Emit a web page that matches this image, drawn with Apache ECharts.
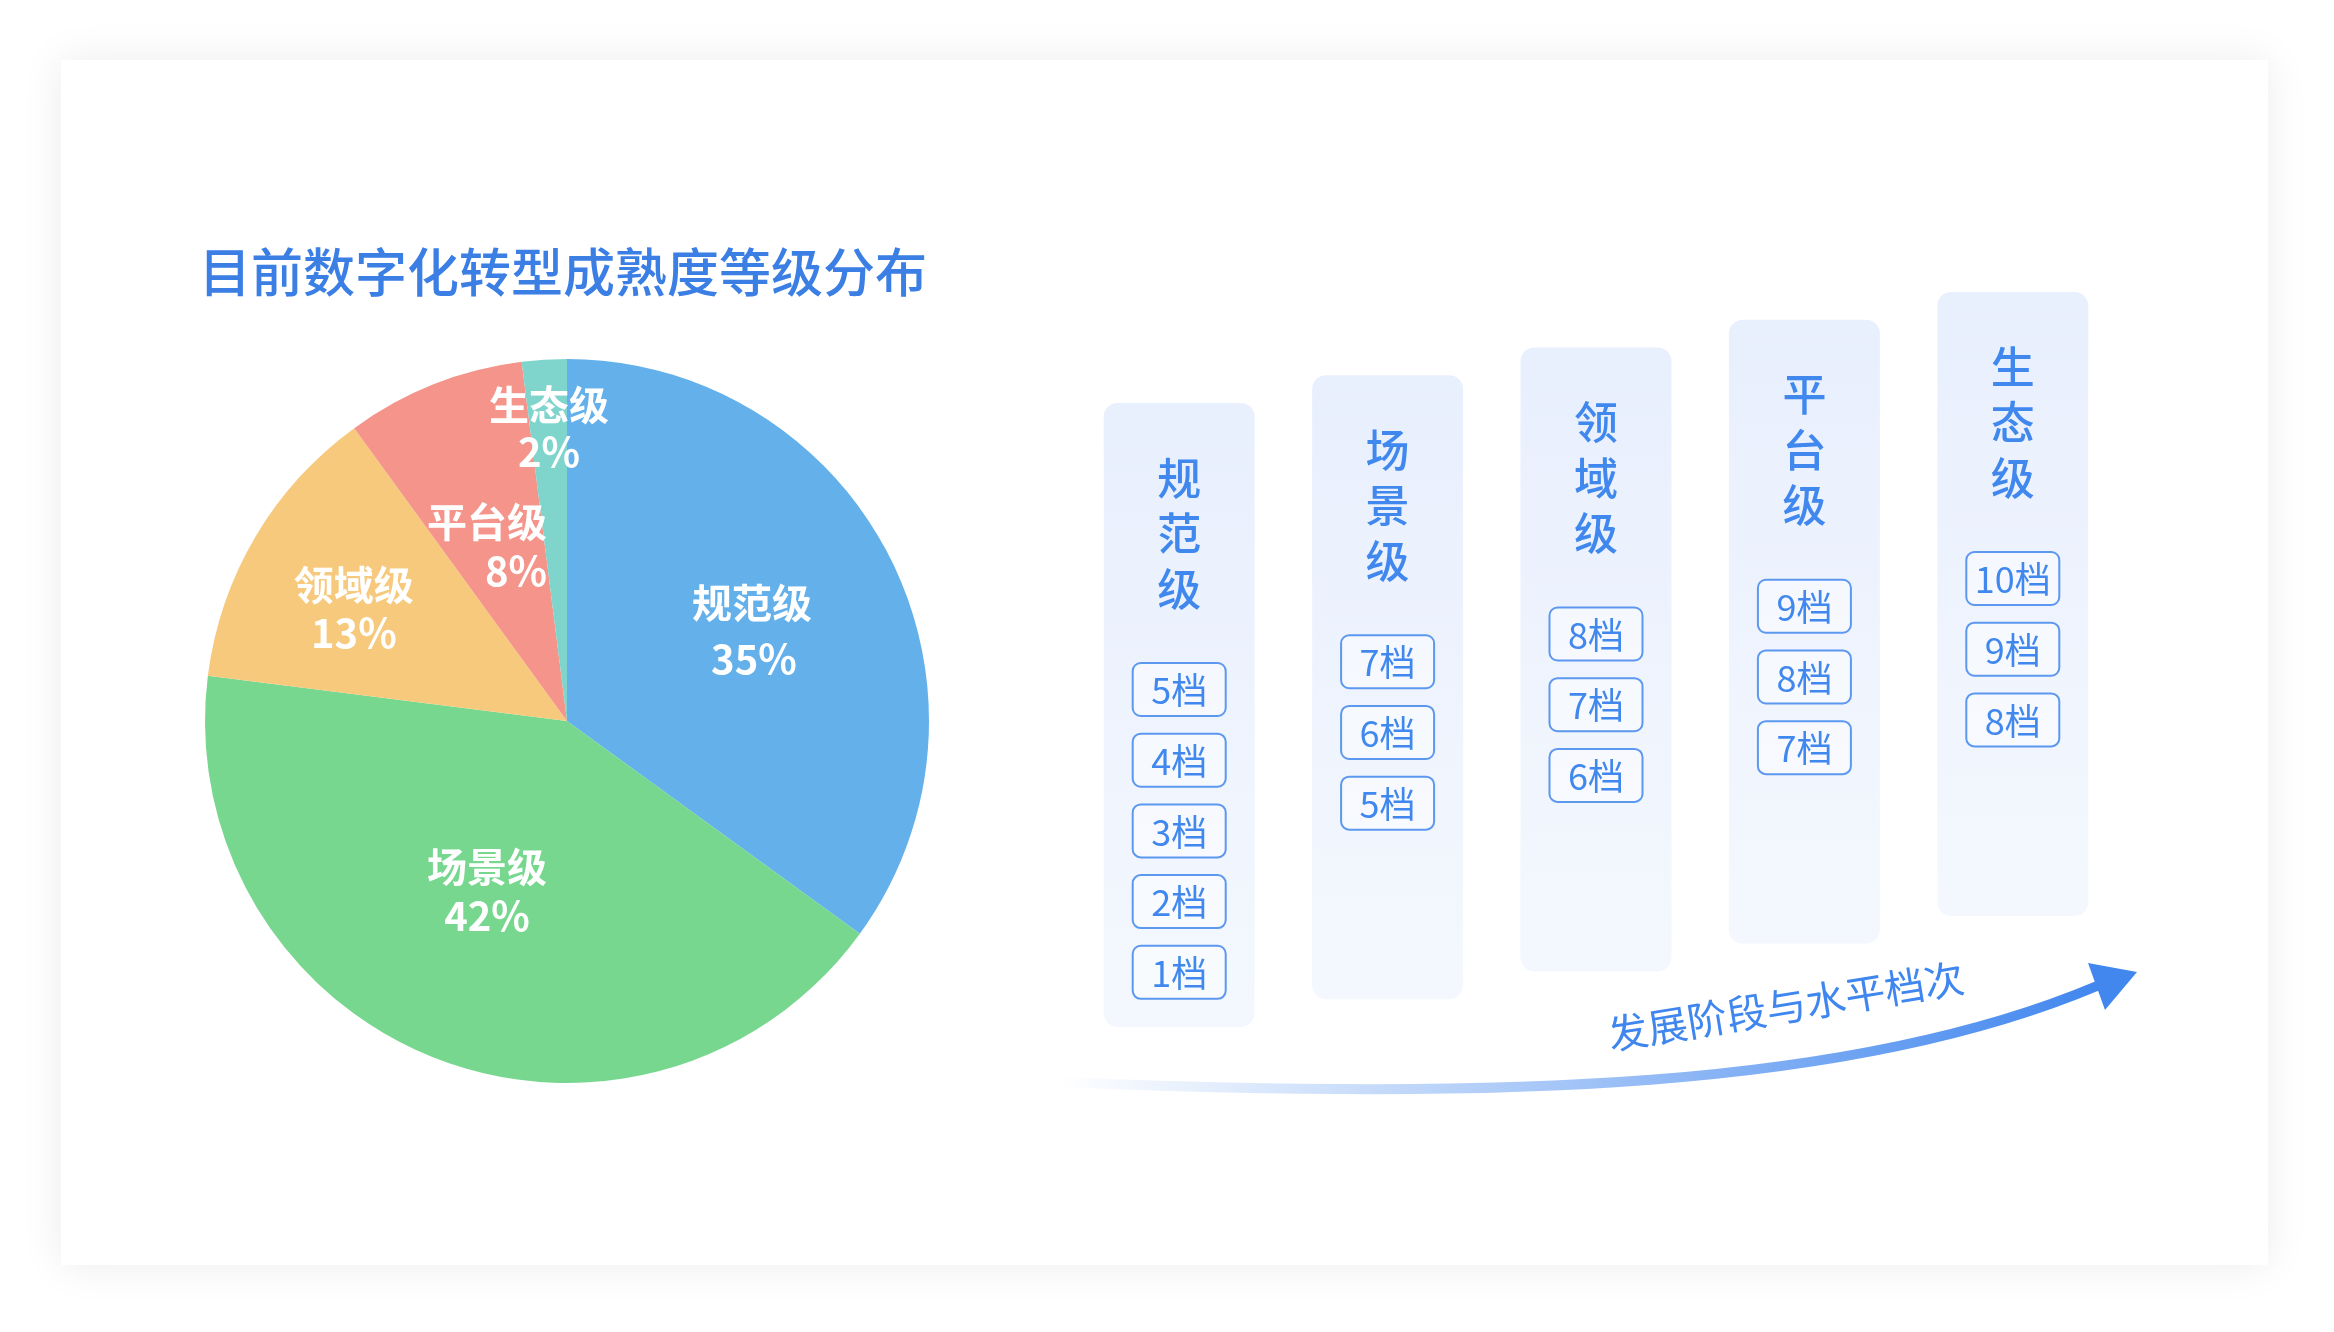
<!DOCTYPE html>
<html>
<head>
<meta charset="utf-8">
<script src="https://cdn.jsdelivr.net/npm/echarts@6/dist/echarts.min.js"></script>
<style>
html,body{margin:0;padding:0;background:#ffffff;}
#main{width:2334px;height:1332px;}
</style>
</head>
<body>
<div id="main"></div>
<script>
// ---- data ----
const chartTitle = '目前数字化转型成熟度等级分布';
const pieNames = ['规范级', '场景级', '领域级', '平台级', '生态级'];
const pieValues = [35, 42, 13, 8, 2];
const pieColors = ['#63b0eb', '#78d78f', '#f6c97d', '#f4948a', '#7fd4cb'];
const stages = ['规范级', '场景级', '领域级', '平台级', '生态级'];
const stageLevels = [
  ['5档', '4档', '3档', '2档', '1档'],
  ['7档', '6档', '5档'],
  ['8档', '7档', '6档'],
  ['9档', '8档', '7档'],
  ['10档', '9档', '8档']
];
const arrowText = '发展阶段与水平档次';

// ---- style / layout ----
const FONT = '"Noto Sans CJK SC", "Noto Sans", sans-serif';
const BLUE = '#4088ee';
const PIE_CX = 567, PIE_CY = 721, PIE_R = 362;
// label placement inside slices: [radius fraction, angle in degrees clockwise from top]
const labelPolar = [[0.568, 64.1], [0.519, 205.2], [0.665, 297.7], [0.531, 335.4], [0.811, 356.5]];
const labelLineHeights = [56, 49, 48, 49, 47];
const labelValueShift = [4, 0, 0, 58, 0];
const COL_TOP0 = 403, COL_STEP = 27.75, COL_H = 624, COL_W = 151;
const BADGE_W = 93, BADGE_H = 53, BADGE_GAP = 70.7, BADGE_OFF = 260;

const chart = echarts.init(document.getElementById('main'), null, {renderer: 'canvas'});

const labelBase = {color: '#ffffff', fontSize: 40, fontWeight: 'bold', fontFamily: FONT};
const labelRich = {};
for (let i = 0; i < pieNames.length; i++) {
  labelRich['n' + i] = Object.assign({}, labelBase, {lineHeight: labelLineHeights[i]});
  labelRich['p' + i] = Object.assign({}, labelBase, {lineHeight: labelLineHeights[i], padding: [0, 0, 0, labelValueShift[i]]});
}

function renderStage(params, api) {
  const i = api.value(0);
  const cx = api.coord([i, 0])[0];
  const top = COL_TOP0 - COL_STEP * i;
  const children = [];
  children.push({
    type: 'rect',
    shape: {x: cx - COL_W / 2, y: top, width: COL_W, height: COL_H, r: 14},
    style: {
      fill: new echarts.graphic.LinearGradient(0, 0, 0, 1, [
        {offset: 0, color: '#e8effd'},
        {offset: 1, color: '#f4f8fe'}
      ])
    }
  });
  const name = stages[i];
  for (let k = 0; k < name.length; k++) {
    children.push({
      type: 'text',
      style: {
        text: name[k], x: cx, y: top + 75 + k * 55.5,
        fill: BLUE, fontSize: 44, fontFamily: FONT, fontWeight: 500,
        align: 'center', verticalAlign: 'middle'
      }
    });
  }
  const lv = stageLevels[i];
  for (let k = 0; k < lv.length; k++) {
    const by = top + BADGE_OFF + k * BADGE_GAP;
    children.push({
      type: 'rect',
      shape: {x: cx - BADGE_W / 2, y: by, width: BADGE_W, height: BADGE_H, r: 8},
      style: {fill: 'rgba(255,255,255,0.45)', stroke: '#5c98ef', lineWidth: 2}
    });
    children.push({
      type: 'text',
      style: {
        text: lv[k], x: cx, y: by + BADGE_H / 2 + 1,
        fill: BLUE, fontSize: 36, fontFamily: FONT,
        align: 'center', verticalAlign: 'middle'
      }
    });
  }
  return {type: 'group', children: children};
}

const option = {
  backgroundColor: '#ffffff',
  animation: false,
  textStyle: {fontFamily: FONT},
  graphic: [
    {
      type: 'rect', z: -10,
      shape: {x: 61, y: 60, width: 2207, height: 1205},
      style: {fill: '#ffffff', shadowBlur: 40, shadowColor: 'rgba(0,0,0,0.08)'}
    },
    {
      type: 'text', z: 5,
      style: {
        text: chartTitle, x: 199, y: 272,
        fill: '#3b7fe4', fontSize: 52, fontFamily: FONT, fontWeight: 500,
        align: 'left', verticalAlign: 'middle'
      }
    },
    {
      type: 'bezierCurve', z: 5,
      shape: {x1: 1060, y1: 1082, cpx1: 1500, cpy1: 1100, cpx2: 1850, cpy2: 1090, x2: 2097, y2: 986},
      style: {
        fill: null, lineWidth: 10, lineCap: 'butt',
        stroke: {
          type: 'linear', x: 1060, y: 0, x2: 2097, y2: 0, global: true,
          colorStops: [
            {offset: 0, color: 'rgba(66,135,238,0)'},
            {offset: 0.35, color: 'rgba(66,135,238,0.35)'},
            {offset: 1, color: 'rgba(66,135,238,1)'}
          ]
        }
      }
    },
    {
      type: 'polygon', z: 6,
      shape: {points: [[2088, 963], [2137, 972], [2105, 1010]]},
      style: {fill: '#4287ee'}
    },
    {
      type: 'text', z: 6,
      x: 1786, y: 1006, rotation: 9.3 * Math.PI / 180,
      style: {
        text: arrowText, x: 0, y: 0,
        fill: '#3f86ee', fontSize: 40, fontFamily: FONT,
        align: 'center', verticalAlign: 'middle'
      }
    }
  ],
  grid: {left: 1075, width: 1042, top: 0, bottom: 0},
  xAxis: {type: 'category', data: stages, show: false, boundaryGap: true},
  yAxis: {type: 'value', show: false, min: 0, max: 1},
  series: [
    {
      type: 'pie',
      center: [PIE_CX, PIE_CY],
      radius: PIE_R,
      startAngle: 90,
      clockwise: true,
      silent: true,
      data: pieNames.map((n, i) => ({name: n, value: pieValues[i], itemStyle: {color: pieColors[i]}})),
      label: Object.assign({
        show: true, position: 'inside',
        formatter: function (p) {
          return '{n' + p.dataIndex + '|' + p.name + '}\n{p' + p.dataIndex + '|' + p.value + '%}';
        },
        align: 'center', verticalAlign: 'middle',
        rich: labelRich
      }, labelBase),
      labelLine: {show: false},
      labelLayout: function (p) {
        const lp = labelPolar[p.dataIndex];
        const a = lp[1] * Math.PI / 180;
        const r = lp[0] * PIE_R;
        const rect = p.labelRect;
        const cx = rect.x + rect.width / 2, cy = rect.y + rect.height / 2;
        const tx = PIE_CX + r * Math.sin(a), ty = PIE_CY - r * Math.cos(a);
        return {dx: tx - cx, dy: ty - cy};
      }
    },
    {
      type: 'custom',
      clip: false,
      silent: true,
      data: stages.map((s, i) => [i]),
      renderItem: renderStage
    }
  ]
};
chart.setOption(option);
</script>
</body>
</html>
